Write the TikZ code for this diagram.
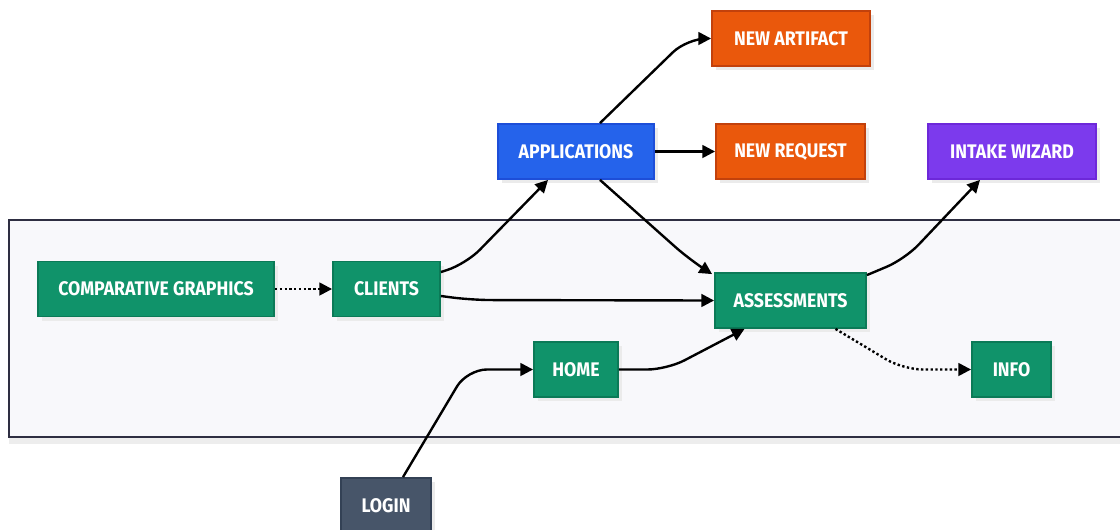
\documentclass[tikz,border=0pt]{standalone}
\usepackage{fontspec}
\setmainfont{Fira Sans}[FakeStretch=0.9]
\usetikzlibrary{arrows.meta,shadows}

\definecolor{grnfill}{HTML}{10936A}
\definecolor{grnline}{HTML}{0B7A57}
\definecolor{bluefill}{HTML}{2563EB}
\definecolor{blueline}{HTML}{1D4ED8}
\definecolor{orgfill}{HTML}{EA580C}
\definecolor{orgline}{HTML}{C2410C}
\definecolor{purfill}{HTML}{7C3AED}
\definecolor{purline}{HTML}{6D28D9}
\definecolor{slatefill}{HTML}{475569}
\definecolor{slateline}{HTML}{334155}
\definecolor{groupfill}{HTML}{F8F8FB}
\definecolor{groupline}{HTML}{2E2E42}

\begin{document}
\begin{tikzpicture}[x=0.025cm, y=-0.025cm, line width=1.7pt,
  nodebox/.style={draw, line width=1.3pt, text=white,
    font=\bfseries\fontsize{14}{16}\selectfont,
    minimum height=1.375cm, inner sep=0pt,
    general shadow={fill=black!8, shadow xshift=3pt, shadow yshift=-3pt}},
  greenbox/.style={nodebox, fill=grnfill, draw=grnline},
  bluebox/.style={nodebox, fill=bluefill, draw=blueline},
  orangebox/.style={nodebox, fill=orgfill, draw=orgline},
  purplebox/.style={nodebox, fill=purfill, draw=purline},
  slatebox/.style={nodebox, fill=slatefill, draw=slateline},
  arr/.style={-{Triangle[length=9pt,width=9pt]}, rounded corners=14pt},
  dotarr/.style={arr, dash pattern=on 1.7pt off 1.7pt}]
  \useasboundingbox (0,0) rectangle (1120,529);

  % group frame
  \draw[groupline, fill=groupfill, line width=1.7pt,
    general shadow={fill=black!7, shadow xshift=0pt, shadow yshift=-5pt}]
    (9,220) rectangle (1135,437);

  % nodes
  \node[greenbox, minimum width=5.9cm]   (cg)       at (156,289)   {COMPARATIVE GRAPHICS};
  \node[greenbox, minimum width=2.675cm] (clients)  at (386.5,289) {CLIENTS};
  \node[bluebox, minimum width=3.9cm]    (apps)     at (576,151.5) {APPLICATIONS};
  \node[orangebox, minimum width=3.95cm] (artifact) at (791,38.5)  {NEW ARTIFACT};
  \node[orangebox, minimum width=3.725cm](request)  at (790.5,151.5) {NEW REQUEST};
  \node[purplebox, minimum width=4.2cm]  (intake)   at (1012,151.5) {INTAKE WIZARD};
  \node[greenbox, minimum width=3.775cm] (assess)   at (790.5,300.5) {ASSESSMENTS};
  \node[greenbox, minimum width=2.1cm]   (home)     at (576,369.5) {HOME};
  \node[greenbox, minimum width=1.975cm] (info)     at (1011.5,369.5) {INFO};
  \node[slatebox, minimum width=2.25cm]  (login)    at (386,505.5) {LOGIN};

  % edges
  \draw[dotarr] (cg) -- (clients);
  \draw[arr] ([shift={(0,-17)}]clients.east) -- ++(25,-8)
    -- ([shift={(-28,0)}]apps.south);
  \draw[arr] ([shift={(0,7)}]clients.east) -- ++(30,4) -- (assess.west);
  \draw[arr] ([shift={(24,0)}]apps.north) -- ([shift={(-24,0)}]artifact.west)
    -- (artifact.west);
  \draw[arr] (apps) -- (request);
  \draw[arr] ([shift={(24,0)}]apps.south) -- ([shift={(-24,-12)}]assess.north west)
    -- ([shift={(-2,2)}]assess.north west);
  \draw[arr] ([shift={(0,3)}]assess.north east) -- ++(38,-16)
    -- ([shift={(-32,0)}]intake.south);
  \draw[arr] (home.east) -- ++(48,0) -- ([shift={(-46,0)}]assess.south);
  \draw[dotarr] ([shift={(45,0)}]assess.south) -- ([shift={(-68,0)}]info.west)
    -- (info.west);
  \draw[arr] ([shift={(17,0)}]login.north) -- ([shift={(-66,0)}]home.west)
    -- (home.west);
\end{tikzpicture}
\end{document}
